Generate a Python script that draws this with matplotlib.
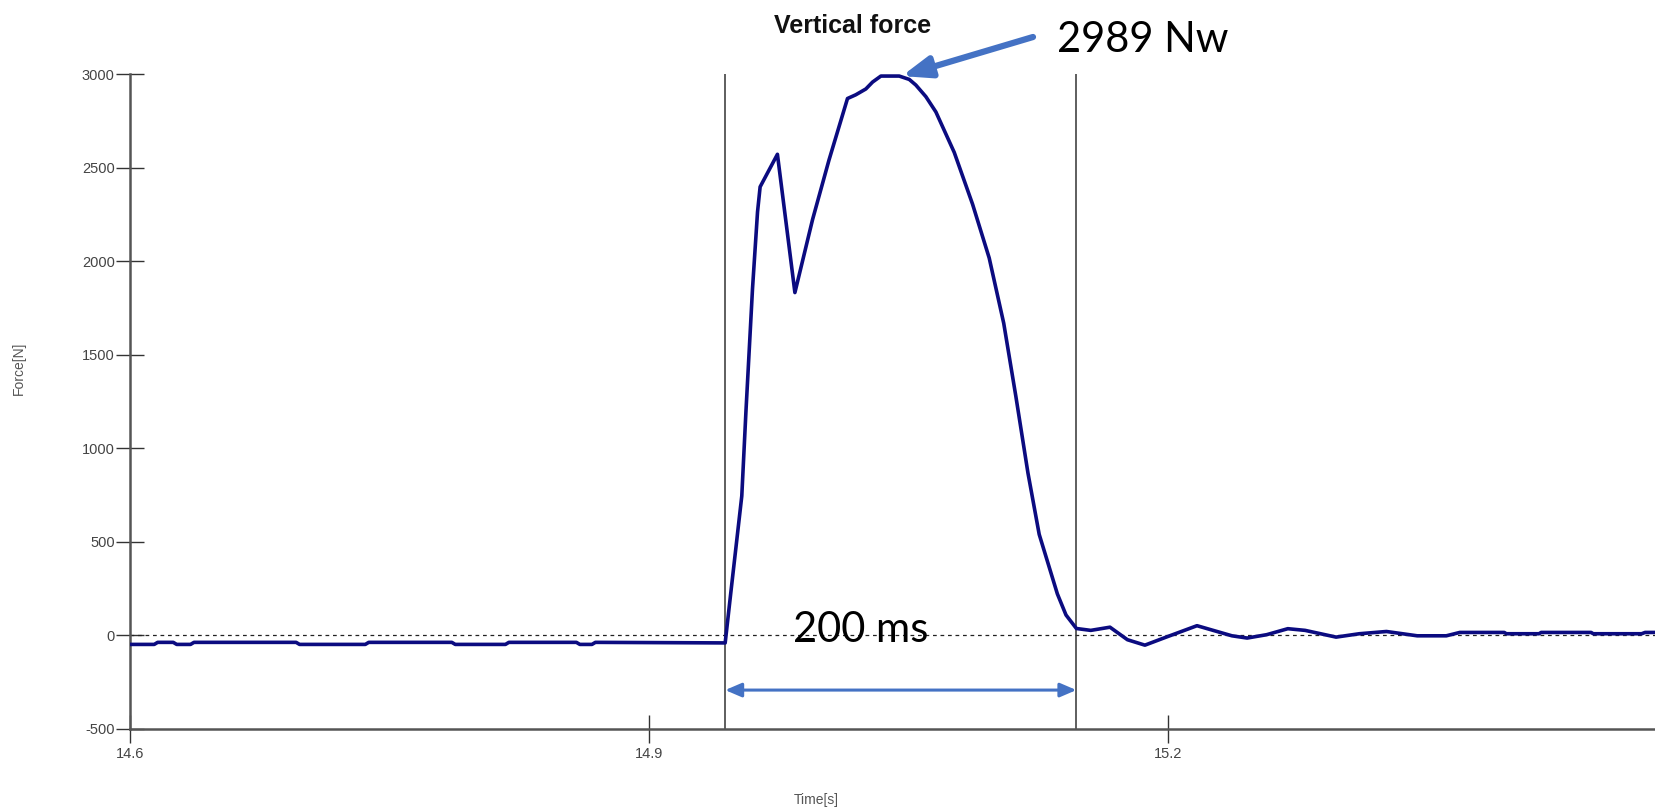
import numpy as np
import matplotlib
matplotlib.use("Agg")
import matplotlib.pyplot as plt

# ================= DATA ===================
# flat part before contact (small steps around -40 N)
pre_time = [14.600, 14.614, 14.616, 14.625, 14.627, 14.635, 14.637, 14.696, 14.698, 14.736,
            14.738, 14.786, 14.788, 14.817, 14.819, 14.858, 14.860, 14.867, 14.869, 14.944]
pre_force = [-48, -48, -37, -37, -48, -48, -37, -37, -48, -48,
             -37, -37, -48, -48, -37, -37, -48, -48, -37, -40]

# contact phase
hit_time = [14.9473, 14.9536, 14.9560, 14.9598, 14.9627, 14.9642, 14.9742, 14.9843, 14.9945, 15.0040,
            15.0147, 15.0195, 15.0253, 15.0292, 15.0340, 15.0446, 15.0504, 15.0542, 15.0600, 15.0658,
            15.0764, 15.0870, 15.0966, 15.1050, 15.1120, 15.1190, 15.1255, 15.1360, 15.1410, 15.1470]
hit_force = [232, 745, 1196, 1853, 2263, 2397, 2571, 1832, 2222, 2540,
             2869, 2889, 2920, 2957, 2989, 2989, 2971, 2941, 2879, 2797,
             2581, 2304, 2017, 1668, 1278, 868, 540, 222, 109, 37]

# after contact (small oscillation)
post_time = [15.1553, 15.1664, 15.1765, 15.1866, 15.1989, 15.2167, 15.2369, 15.2457, 15.2570, 15.2692,
             15.2792, 15.2971, 15.3105, 15.3262, 15.3440, 15.3608, 15.3686, 15.3943, 15.3955, 15.4144,
             15.4156, 15.4445, 15.4457, 15.4737, 15.4757, 15.4820]
post_force = [27, 44, -23, -52, -9, 52, -2, -14, 4, 36,
              27, -9, 9, 21, -2, -2, 16, 16, 9, 9,
              16, 16, 9, 9, 16, 16]

contact_on = 14.944
contact_off = 15.147
peak_time = 15.0446
peak_force = 2989

x_ticks = [14.6, 14.9, 15.2]
y_ticks = [-500, 0, 500, 1000, 1500, 2000, 2500, 3000]

time = pre_time + hit_time + post_time
force = pre_force + hit_force + post_force

# ================= PLOT ===================
W, H = 1656, 810
fig = plt.figure(figsize=(W / 100, H / 100), dpi=100)
ax = fig.add_axes([130 / W, 1 - 729 / H, (W - 130) / W, (729 - 74) / H])

ax.plot(time, force, color="#0b0b80", lw=2.6, zorder=3)
ax.axhline(0, color="#222222", lw=0.9, ls=(0, (3, 3)), zorder=2)
ax.vlines([contact_on, contact_off], -500, 3000, color="#333333", lw=1.1, zorder=2)

ax.set_xlim(14.6, 15.482)
ax.set_ylim(-500, 3000)
ax.set_xticks(x_ticks)
ax.set_xticklabels([f"{t:.1f}" for t in x_ticks])
ax.set_yticks(y_ticks)
ax.set_yticklabels([str(v) for v in y_ticks])

for side in ["top", "right"]:
    ax.spines[side].set_visible(False)
for side in ["left", "bottom"]:
    ax.spines[side].set_color("#555555")
    ax.spines[side].set_linewidth(1.8)

ax.tick_params(axis="both", direction="inout", length=20, width=1.0, color="#333333",
               labelcolor="#444444", labelsize=10.5)
ax.tick_params(axis="y", pad=1)
ax.tick_params(axis="x", pad=3)
for lab in ax.get_xticklabels() + ax.get_yticklabels():
    lab.set_family(["Liberation Sans", "DejaVu Sans"])

# axis labels placed like the original
fig.text(19 / W, 1 - 368 / H, "Force[N]", rotation=90, ha="center", va="center",
         fontsize=10, color="#555555", family="Liberation Sans")
fig.text(816 / W, 1 - 800 / H, "Time[s]", ha="center", va="center",
         fontsize=10, color="#555555", family="Liberation Sans")

# title
fig.text(853 / W, 1 - 32.7 / H, "Vertical force", ha="center", va="baseline",
         fontsize=18, fontweight="bold", color="#111111", family="Liberation Sans")

# ================= ANNOTATIONS ===================
blue = "#4472C4"
fig.text(1057 / W, 1 - 52.3 / H, f"{peak_force} Nw", ha="left", va="baseline",
         fontsize=30, color="black", family="Lato")
ax.annotate("", xy=(peak_time + 0.0015, peak_force), xycoords="data",
            xytext=(1033 / W, 1 - 37 / H), textcoords="figure fraction",
            arrowprops=dict(arrowstyle="-|>,head_length=0.85,head_width=0.32", color=blue,
                            lw=4.5, mutation_scale=20, shrinkA=0, shrinkB=0),
            annotation_clip=False)

fig.text(861 / W, 1 - 642 / H, "200 ms", ha="center", va="baseline",
         fontsize=30, color="black", family="Lato")
ax.annotate("", xy=(contact_on, -292), xytext=(contact_off, -292),
            arrowprops=dict(arrowstyle="<|-|>,head_length=0.7,head_width=0.3", color=blue,
                            lw=2.2, mutation_scale=14, shrinkA=0, shrinkB=0))

fig.savefig("out.png", dpi=100)
